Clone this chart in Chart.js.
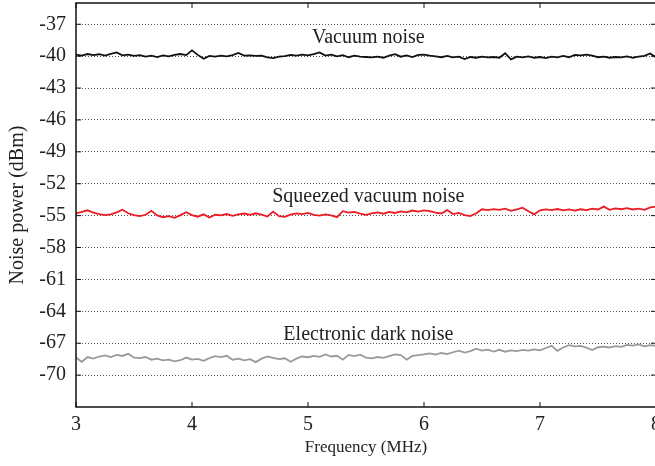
<!DOCTYPE html>
<html>
<head>
<meta charset="utf-8">
<script src="https://cdn.jsdelivr.net/npm/chart.js@4/dist/chart.umd.min.js"></script>
<style>
  html, body { margin: 0; padding: 0; background: #fff; overflow: hidden; }
  #wrap { width: 662px; height: 466px; }
</style>
</head>
<body>
<div id="wrap"><canvas id="noiseChart"></canvas></div>
<script>
// sweep frequencies (MHz)
var freq = [
  3.00, 3.05, 3.10, 3.15, 3.20, 3.25, 3.30, 3.35, 3.40, 3.45,
  3.50, 3.55, 3.60, 3.65, 3.70, 3.75, 3.80, 3.85, 3.90, 3.95,
  4.00, 4.05, 4.10, 4.15, 4.20, 4.25, 4.30, 4.35, 4.40, 4.45,
  4.50, 4.55, 4.60, 4.65, 4.70, 4.75, 4.80, 4.85, 4.90, 4.95,
  5.00, 5.05, 5.10, 5.15, 5.20, 5.25, 5.30, 5.35, 5.40, 5.45,
  5.50, 5.55, 5.60, 5.65, 5.70, 5.75, 5.80, 5.85, 5.90, 5.95,
  6.00, 6.05, 6.10, 6.15, 6.20, 6.25, 6.30, 6.35, 6.40, 6.45,
  6.50, 6.55, 6.60, 6.65, 6.70, 6.75, 6.80, 6.85, 6.90, 6.95,
  7.00, 7.05, 7.10, 7.15, 7.20, 7.25, 7.30, 7.35, 7.40, 7.45,
  7.50, 7.55, 7.60, 7.65, 7.70, 7.75, 7.80, 7.85, 7.90, 7.95,
  8.00
];

// Vacuum noise (dBm)
var vacuumNoise = [
  -39.85, -39.95, -39.80, -39.90, -39.82, -39.95, -39.78, -39.65, -39.92, -39.85,
  -39.98, -39.90, -40.05, -39.95, -40.08, -39.92, -40.02, -39.88, -39.80, -39.90,
  -39.45, -39.88, -40.25, -39.98, -40.05, -39.95, -40.02, -39.90, -39.70, -39.95,
  -39.92, -39.98, -39.95, -40.12, -40.18, -40.05, -40.00, -39.88, -39.95, -39.85,
  -39.92, -39.80, -39.65, -39.95, -39.85, -40.02, -39.90, -40.10, -39.95, -40.05,
  -40.08, -40.12, -40.05, -40.15, -39.95, -39.82, -40.05, -39.92, -40.08, -39.88,
  -39.85, -39.95, -40.02, -40.10, -39.98, -40.12, -40.05, -40.28, -40.08, -40.15,
  -40.05, -40.12, -40.08, -40.15, -39.72, -40.30, -40.05, -40.12, -40.02, -40.15,
  -40.08, -40.18, -40.05, -40.12, -39.98, -40.10, -39.88, -39.92, -39.85, -39.95,
  -40.10, -40.05, -40.15, -40.08, -40.12, -40.02, -40.15, -40.05, -39.98, -39.75,
  -40.12
];

// Squeezed vacuum noise (dBm)
var squeezedNoise = [
  -54.80, -54.65, -54.50, -54.72, -54.85, -54.95, -54.88, -54.70, -54.45, -54.78,
  -54.95, -55.05, -54.92, -54.55, -54.98, -55.15, -55.05, -55.20, -54.95, -54.68,
  -54.95, -55.10, -54.88, -55.18, -54.92, -54.98, -54.85, -55.02, -54.88, -54.80,
  -54.92, -54.78, -54.90, -55.08, -54.62, -55.05, -55.12, -54.90, -54.78, -54.85,
  -54.75, -54.92, -55.00, -54.88, -54.98, -55.15, -54.58, -54.72, -54.65, -54.80,
  -54.92, -54.78, -54.70, -54.82, -54.65, -54.75, -54.60, -54.70, -54.52, -54.62,
  -54.50, -54.58, -54.72, -54.80, -54.48, -54.85, -54.75, -54.95, -55.05, -54.78,
  -54.40, -54.48, -54.38, -54.45, -54.35, -54.55, -54.42, -54.25, -54.58, -54.88,
  -54.50, -54.42, -54.48, -54.38, -54.50, -54.42, -54.52, -54.40, -54.48, -54.35,
  -54.42, -54.15, -54.45, -54.32, -54.40, -54.30, -54.42, -54.35, -54.45, -54.22,
  -54.15
];

// Electronic dark noise (dBm)
var darkNoise = [
  -68.35, -68.75, -68.30, -68.45, -68.25, -68.15, -68.30, -68.10, -68.20, -68.00,
  -68.35, -68.40, -68.30, -68.55, -68.45, -68.62, -68.55, -68.70, -68.60, -68.35,
  -68.55, -68.48, -68.65, -68.40, -68.22, -68.30, -68.18, -68.55, -68.45, -68.62,
  -68.50, -68.78, -68.45, -68.25, -68.38, -68.50, -68.42, -68.75, -68.45, -68.25,
  -68.32, -68.20, -68.28, -68.05, -68.25, -68.18, -68.55, -68.10, -68.22, -68.08,
  -68.35, -68.42, -68.30, -68.38, -68.22, -68.05, -68.12, -68.55, -68.20, -68.12,
  -68.05, -67.95, -68.08, -67.92, -68.02, -67.85, -67.70, -67.88, -67.75, -67.52,
  -67.70, -67.60, -67.78, -67.62, -67.80, -67.68, -67.75, -67.62, -67.70, -67.58,
  -67.68, -67.45, -67.25, -67.72, -67.40, -67.18, -67.30, -67.25, -67.42, -67.65,
  -67.38, -67.32, -67.40, -67.28, -67.35, -67.15, -67.22, -67.12, -67.30, -67.18,
  -67.25
];

var yTicks = [-70, -67, -64, -61, -58, -55, -52, -49, -46, -43, -40, -37];
var xTicks = [3, 4, 5, 6, 7, 8];

// curve labels: [text, x (MHz), y (dBm)]
var curveLabels = [
  ['Vacuum noise', 5.52, -38.3],
  ['Squeezed vacuum noise', 5.52, -53.2],
  ['Electronic dark noise', 5.52, -66.2]
];

var serif = '"Liberation Serif", "DejaVu Serif", serif';

function pts(ys) {
  return ys.map(function (y, i) { return { x: freq[i], y: y }; });
}

// frame, inward ticks and curve labels
var framePlugin = {
  id: 'frame',
  afterDatasetsDraw: function (chart) {
    var ctx = chart.ctx, a = chart.chartArea;
    var xs = chart.scales.x, ys = chart.scales.y;
    ctx.save();
    ctx.strokeStyle = '#111';
    ctx.lineWidth = 1.5;
    ctx.strokeRect(a.left, a.top, a.right - a.left, a.bottom - a.top);
    ctx.lineWidth = 1;
    ctx.beginPath();
    xTicks.forEach(function (v) {
      var px = xs.getPixelForValue(v);
      ctx.moveTo(px, a.bottom); ctx.lineTo(px, a.bottom - 5);
      ctx.moveTo(px, a.top); ctx.lineTo(px, a.top + 5);
    });
    yTicks.forEach(function (v) {
      var py = ys.getPixelForValue(v);
      ctx.moveTo(a.left, py); ctx.lineTo(a.left + 5, py);
      ctx.moveTo(a.right, py); ctx.lineTo(a.right - 5, py);
    });
    ctx.stroke();

    ctx.fillStyle = '#222';
    ctx.font = '20px ' + serif;
    ctx.textAlign = 'center';
    ctx.textBaseline = 'middle';
    curveLabels.forEach(function (l) {
      ctx.fillText(l[0], xs.getPixelForValue(l[1]), ys.getPixelForValue(l[2]));
    });
    ctx.restore();
  }
};

var noiseChart = new Chart(document.getElementById('noiseChart'), {
  type: 'line',
  data: {
    datasets: [{
      label: 'Vacuum noise',
      data: pts(vacuumNoise),
      borderColor: '#111111',
      borderWidth: 1.8,
      pointRadius: 0,
      tension: 0
    }, {
      label: 'Squeezed vacuum noise',
      data: pts(squeezedNoise),
      borderColor: '#ec1c24',
      borderWidth: 1.8,
      pointRadius: 0,
      tension: 0
    }, {
      label: 'Electronic dark noise',
      data: pts(darkNoise),
      borderColor: '#9a9a9a',
      borderWidth: 1.8,
      pointRadius: 0,
      tension: 0
    }]
  },
  plugins: [framePlugin],
  options: {
    responsive: true,
    maintainAspectRatio: false,
    animation: false,
    layout: { padding: { top: 3, right: 6, left: 0, bottom: 0 } },
    plugins: {
      legend: { display: false },
      tooltip: { enabled: false }
    },
    scales: {
      x: {
        type: 'linear',
        min: 3,
        max: 8,
        afterBuildTicks: function (s) { s.ticks = xTicks.map(function (v) { return { value: v }; }); },
        afterFit: function (s) { s.height = 59; s.paddingLeft = 0; s.paddingRight = 0; },
        grid: { display: false, drawTicks: false },
        border: { display: false },
        ticks: {
          color: '#222',
          padding: 6,
          maxRotation: 0,
          font: { family: serif, size: 20 }
        },
        title: {
          display: true,
          text: 'Frequency (MHz)',
          color: '#222',
          font: { family: serif, size: 17 },
          padding: { top: 0, bottom: 8 }
        }
      },
      y: {
        min: -73,
        max: -35,
        afterBuildTicks: function (s) { s.ticks = yTicks.map(function (v) { return { value: v }; }); },
        afterFit: function (s) { s.width = 76; s.paddingTop = 0; s.paddingBottom = 0; },
        border: { display: false, dash: [1, 2] },
        grid: {
          color: '#555',
          lineWidth: 1,
          drawTicks: false
        },
        ticks: {
          color: '#222',
          padding: 10,
          font: { family: serif, size: 20 }
        },
        title: {
          display: true,
          text: 'Noise power (dBm)',
          color: '#222',
          font: { family: serif, size: 20 },
          padding: { top: 6, bottom: 0 }
        }
      }
    }
  }
});
</script>
</body>
</html>
